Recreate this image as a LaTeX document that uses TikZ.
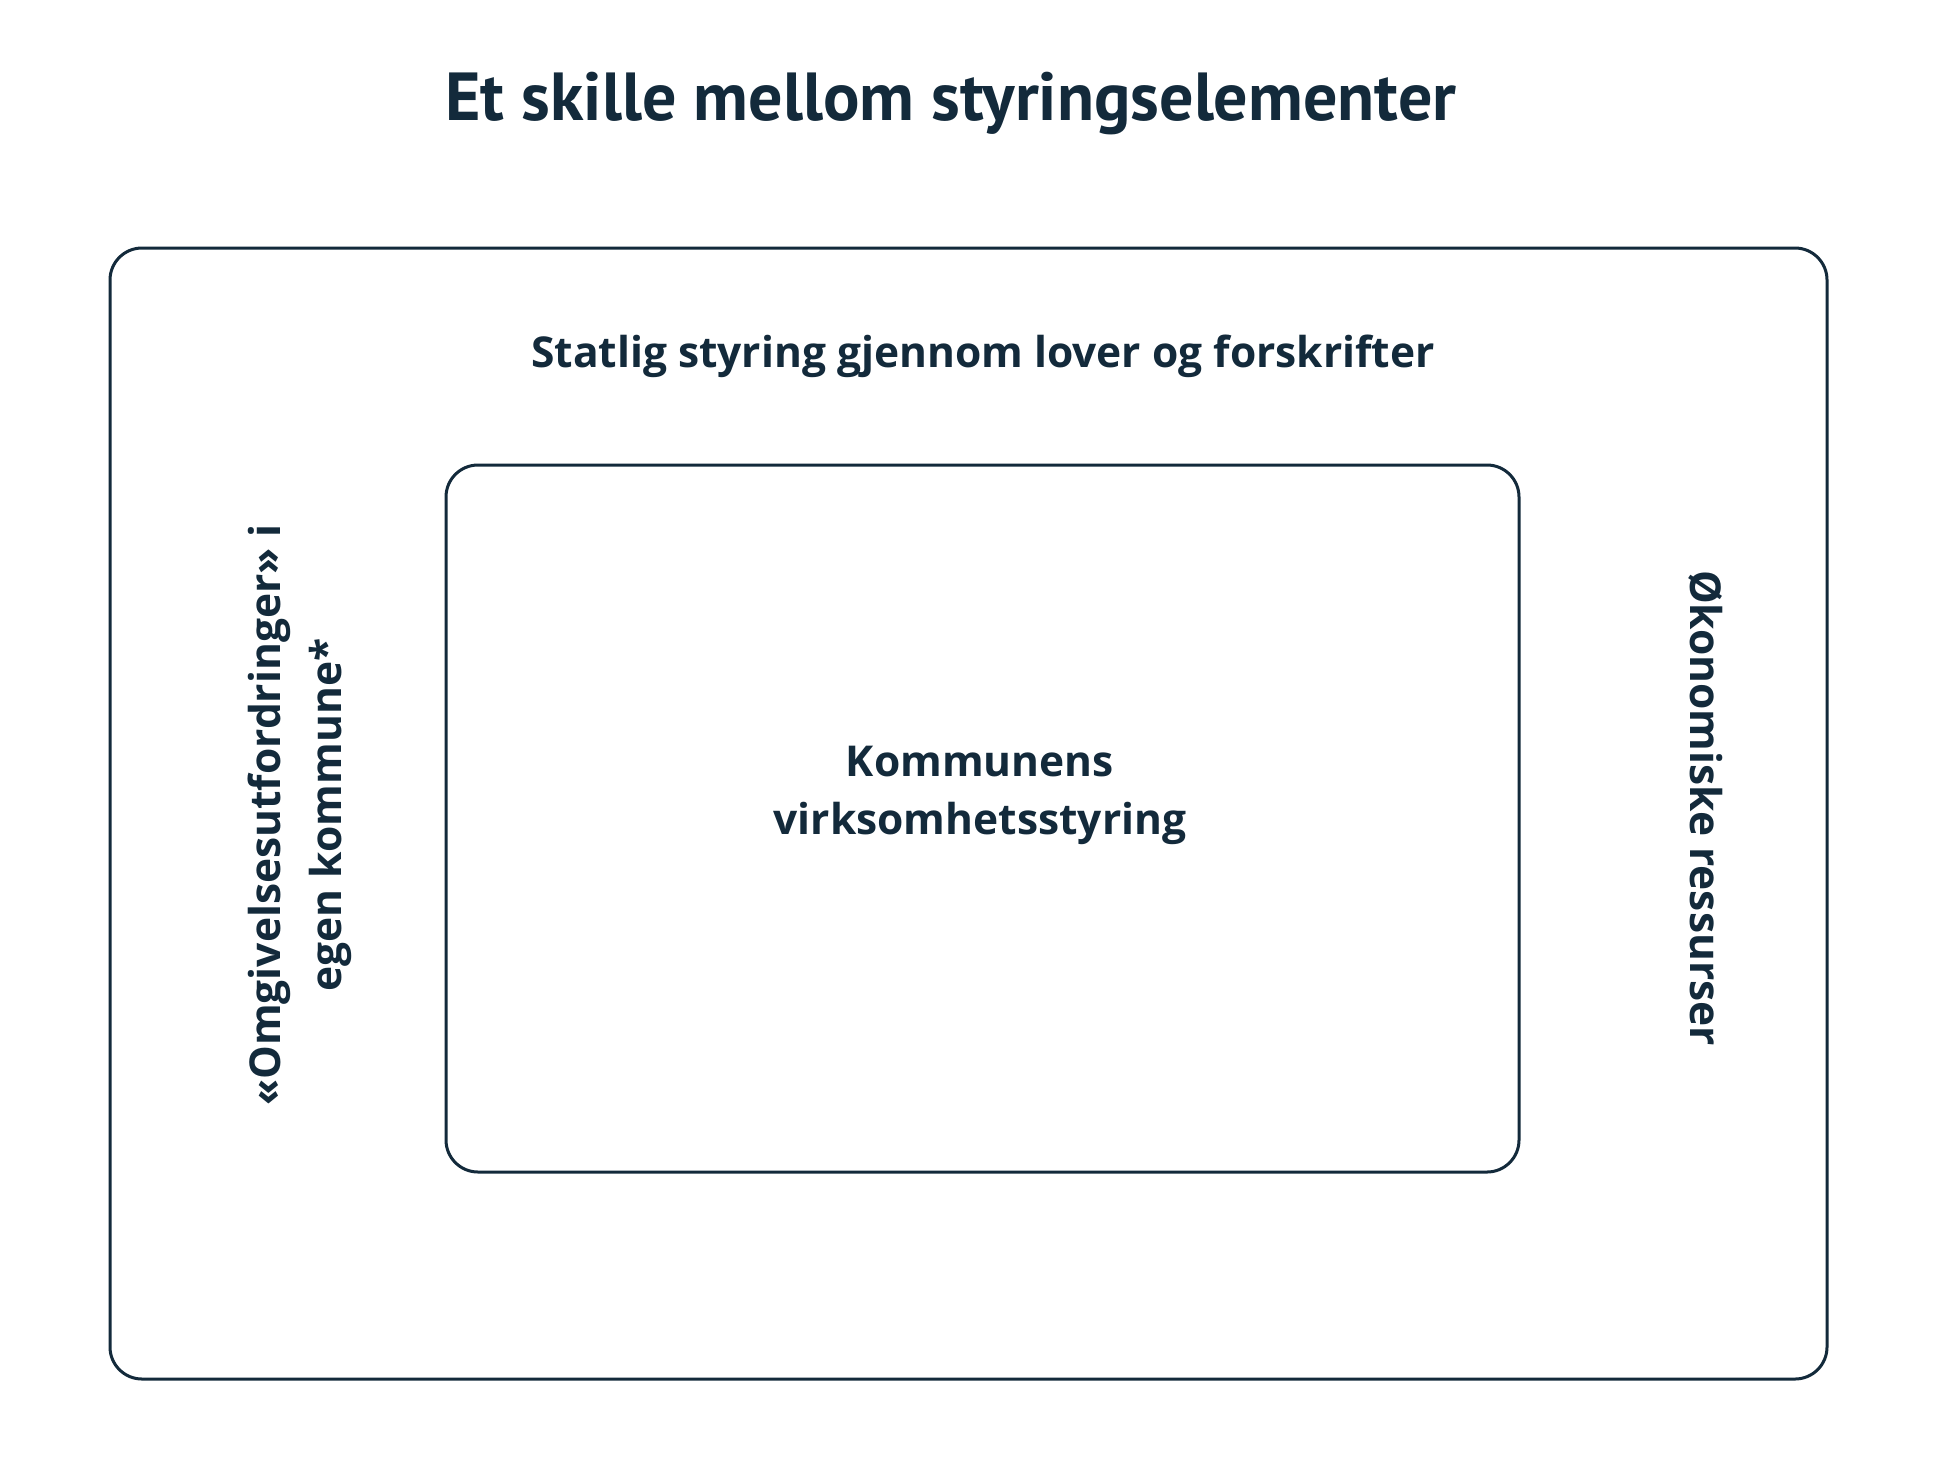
\documentclass[tikz,border=0pt]{standalone}
\usepackage{fontspec}
\setmainfont{Open Sans}
\newfontfamily\titlefont{PT Sans}
\definecolor{ink}{HTML}{132A3B}
\begin{document}
\begin{tikzpicture}[x=1pt,y=-1pt,
  frame/.style={draw=ink,line width=3pt,rounded corners=32pt},
  lbl/.style={text=ink,font=\bfseries\fontsize{42.5}{58}\selectfont,inner sep=0pt,align=center}]
\useasboundingbox[fill=white] (0,0) rectangle (1950,1460);
\draw[frame] (110,248) rectangle (1827,1379);
\draw[frame] (446,465) rectangle (1519,1172);
\node[text=ink,font=\titlefont\bfseries\fontsize{68}{74}\selectfont,anchor=base,inner sep=0pt] (title) at (951,120) {Et skille mellom styringselementer};
\node[lbl,anchor=base] (stat) at (983,367) {Statlig styring gjennom lover og forskrifter};
\node[lbl] (komm) at (980,795.5) {Kommunens\\virksomhetsstyring};
\node[lbl,rotate=90,font=\bfseries\fontsize{42.5}{61}\selectfont] (omg) at (300,815) {«Omgivelsesutfordringer» i\\egen kommune*};
\node[lbl,rotate=-90] (oko) at (1706,808) {Økonomiske ressurser};
\end{tikzpicture}
\end{document}
